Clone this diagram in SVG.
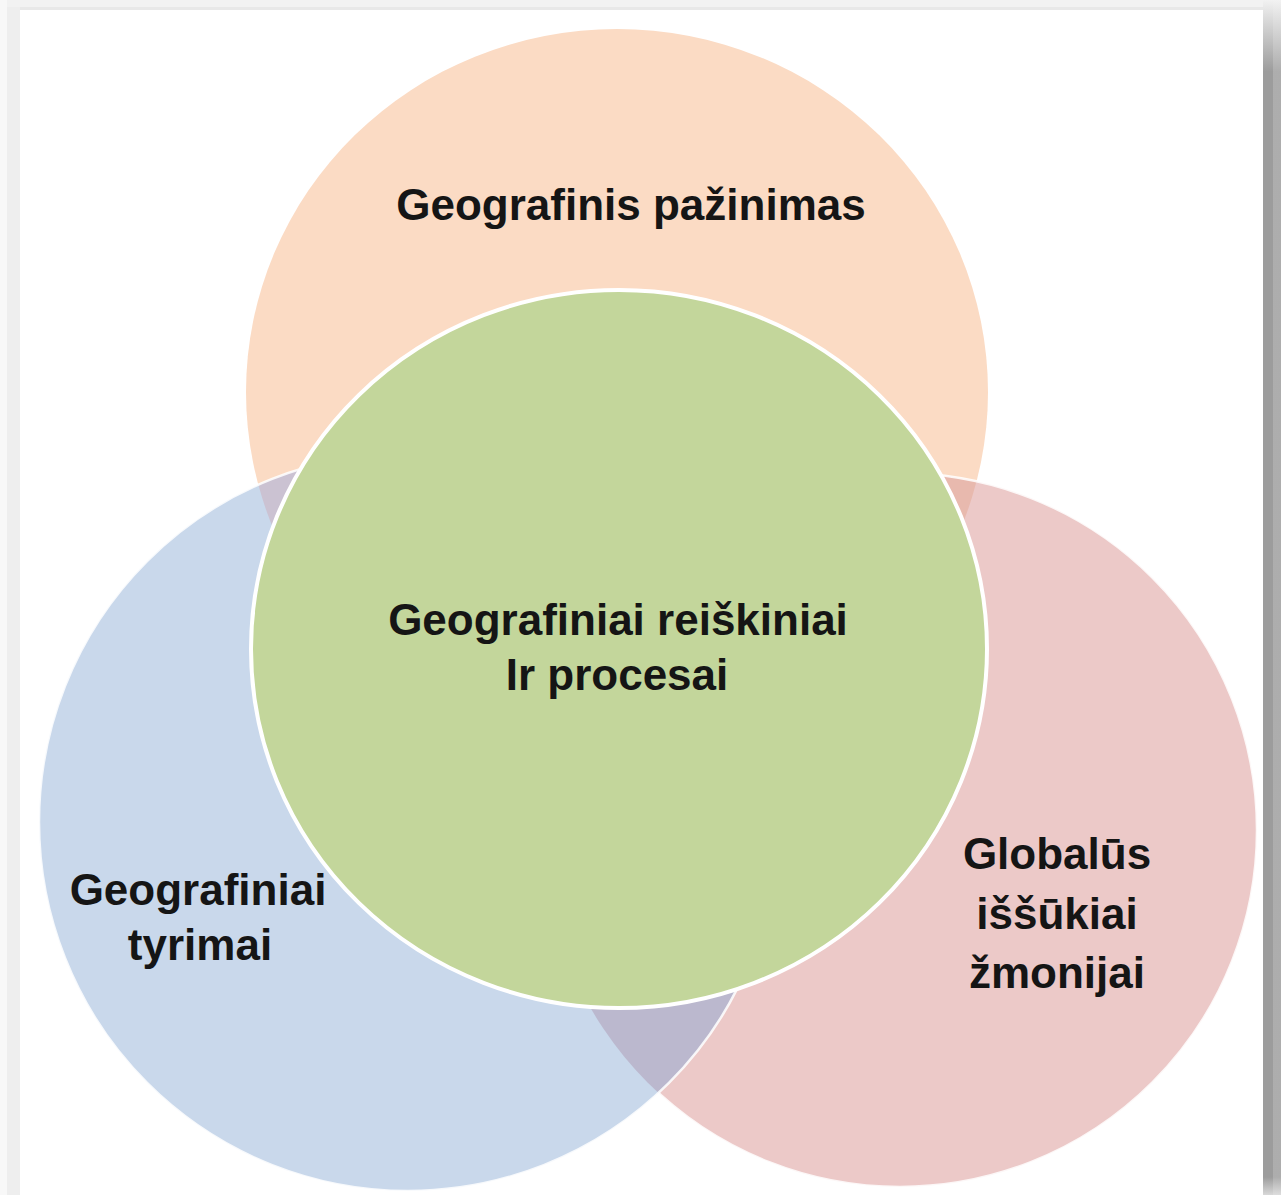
<svg xmlns="http://www.w3.org/2000/svg" width="1281" height="1195" viewBox="0 0 1281 1195">
  <defs>
    <style>
      .lbl { font-family: "Liberation Sans", Arial, sans-serif; font-weight: bold; font-size: 44px; fill: #151515; text-anchor: middle; }
      .edge { fill: none; stroke: #ffffff; stroke-width: 2.5; stroke-opacity: 0.85; }
    </style>
    <linearGradient id="shadowR" x1="0" y1="0" x2="0" y2="1195" gradientUnits="userSpaceOnUse">
      <stop offset="0" stop-color="#f2f2f2"/>
      <stop offset="0.012" stop-color="#e0e0e0"/>
      <stop offset="0.06" stop-color="#9c9c9c"/>
      <stop offset="0.985" stop-color="#9c9c9c"/>
      <stop offset="1" stop-color="#d8d8d8"/>
    </linearGradient>
    <clipPath id="clipOrange"><ellipse cx="617" cy="392" rx="371" ry="363"/></clipPath>
    <clipPath id="clipPink"><circle cx="900" cy="830" r="357"/></clipPath>
  </defs>

  <!-- frame -->
  <rect x="0" y="0" width="1281" height="1195" fill="#f2f2f2"/>
  <rect x="0" y="0" width="7" height="1195" fill="#f8f8f8"/>
  <rect x="7" y="7" width="1260" height="3" fill="#e8e8e8"/>
  <rect x="7" y="7" width="13" height="1188" fill="#eeeeee"/>
  <rect x="20" y="10" width="1243" height="1185" fill="#ffffff"/>
  <rect x="1263" y="0" width="10" height="1195" fill="url(#shadowR)"/>
  <rect x="1273" y="0" width="8" height="1195" fill="url(#shadowR)" opacity="0.8"/>

  <g id="connectors"/>

  <g id="node-pazinimas">
    <ellipse cx="617" cy="392" rx="371" ry="363" fill="#fbdbc4"/>
    <text class="lbl" x="631" y="220">Geografinis pažinimas</text>
  </g>

  <g id="node-issukiai">
    <circle cx="900" cy="830" r="357" fill="#ecc9c8"/>
    <circle cx="900" cy="830" r="357" fill="#e8b9ae" clip-path="url(#clipOrange)"/>
    <circle class="edge" cx="900" cy="830" r="357"/>
    <text class="lbl" x="1057" y="869">Globalūs</text>
    <text class="lbl" x="1057" y="929">iššūkiai</text>
    <text class="lbl" x="1057" y="988">žmonijai</text>
  </g>

  <g id="node-tyrimai">
    <circle cx="408" cy="822" r="369" fill="#c9d8eb"/>
    <circle cx="408" cy="822" r="369" fill="#cbc2d2" clip-path="url(#clipOrange)"/>
    <circle cx="408" cy="822" r="369" fill="#bbb8ce" clip-path="url(#clipPink)"/>
    <circle class="edge" cx="408" cy="822" r="369"/>
    <text class="lbl" x="198" y="905">Geografiniai</text>
    <text class="lbl" x="200" y="960">tyrimai</text>
  </g>

  <g id="node-reiskiniai">
    <ellipse cx="619" cy="649" rx="368" ry="359" fill="#c3d69b" stroke="#ffffff" stroke-width="4"/>
    <text class="lbl" x="618" y="635">Geografiniai reiškiniai</text>
    <text class="lbl" x="617" y="690">Ir procesai</text>
  </g>
</svg>
